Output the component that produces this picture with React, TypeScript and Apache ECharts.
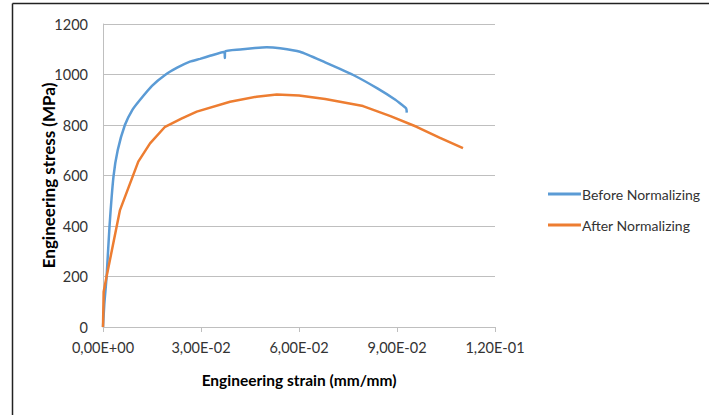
import React, { useEffect, useRef } from "react";
import * as echarts from "echarts";

const seriesNames = ["Before Normalizing", "After Normalizing"];

const beforeStrain = [
  0, 0.0004, 0.0011, 0.002, 0.0032, 0.0045, 0.0067, 0.009, 0.0113, 0.015,
  0.019, 0.0227, 0.0266, 0.0297, 0.033, 0.0372, 0.0373, 0.0374, 0.042, 0.0465,
  0.0501, 0.0542, 0.0603, 0.068, 0.0766, 0.084, 0.0895, 0.0915, 0.0928, 0.093,
];
const beforeStress = [
  0, 90, 199, 400, 595, 700, 800, 860, 899, 955,
  998, 1027, 1051, 1062, 1075, 1090, 1065, 1091, 1099, 1105,
  1108, 1104, 1090, 1048, 998, 945, 900, 880, 866, 849,
];

const afterStrain = [
  0, 0.0002, 0.0011, 0.0052, 0.0108, 0.0144, 0.019, 0.024, 0.0287, 0.0389,
  0.047, 0.0532, 0.06, 0.068, 0.0796, 0.088, 0.096, 0.103, 0.1102,
];
const afterStress = [
  0, 140, 200, 463, 655, 727, 793, 825, 853, 892,
  912, 921, 917, 903, 875, 835, 793, 750, 708,
];

const xTickLabels = ["0,00E+00", "3,00E-02", "6,00E-02", "9,00E-02", "1,20E-01"];
const yTickValues = [0, 200, 400, 600, 800, 1000, 1200];

const colors = ["#5B9BD5", "#ED7D31"];
const font = "Lato, 'Open Sans', sans-serif";

export default function App() {
  const ref = useRef<HTMLDivElement>(null);
  useEffect(() => {
    if (!ref.current) return;
    const chart = echarts.init(ref.current, null, { renderer: "svg" });
    const pairs = (xs: number[], ys: number[]) => xs.map((x, i) => [x, ys[i]]);
    chart.setOption({
      animation: false,
      backgroundColor: "#ffffff",
      textStyle: { fontFamily: font },
      grid: { left: 103, right: 214, top: 24, bottom: 88, containLabel: false },
      legend: {
        orient: "vertical",
        left: 543,
        top: 182,
        itemGap: 17,
        icon: "rect",
        itemWidth: 33,
        itemHeight: 3,
        textStyle: { fontFamily: font, fontSize: 14, color: "#333", padding: [0, 0, 0, -4] },
        data: seriesNames,
      },
      xAxis: {
        type: "value",
        min: 0,
        max: 0.12,
        interval: 0.03,
        name: "Engineering strain (mm/mm)",
        nameLocation: "middle",
        nameGap: 45,
        nameTextStyle: { fontFamily: font, fontSize: 15.5, fontWeight: "bold", color: "#000" },
        axisLine: { show: true, lineStyle: { color: "#bfbfbf", width: 1 } },
        axisTick: { show: true, length: 5, lineStyle: { color: "#bfbfbf" } },
        splitLine: { show: false },
        axisLabel: {
          fontFamily: font,
          fontSize: 14.5,
          color: "#333",
          margin: 13,
          formatter: (v: number) => xTickLabels[Math.round(v / 0.03)] ?? "",
        },
      },
      yAxis: {
        type: "value",
        min: yTickValues[0],
        max: yTickValues[yTickValues.length - 1],
        interval: 200,
        name: "Engineering stress (MPa)",
        nameLocation: "middle",
        nameGap: 46,
        nameMoveOverlap: false,
        nameTextStyle: { fontFamily: font, fontSize: 17, fontWeight: "bold", color: "#000" },
        axisLine: { show: true, lineStyle: { color: "#bfbfbf", width: 1 } },
        axisTick: { show: false },
        splitLine: { show: true, lineStyle: { color: "#bfbfbf", width: 1 } },
        axisLabel: {
          fontFamily: font,
          fontSize: 14.5,
          color: "#333",
          margin: 15,
          formatter: (v: number) => String(v),
        },
      },
      graphic: [
        { type: "line", shape: { x1: 12.5, y1: 3.5, x2: 12.5, y2: 415 }, style: { stroke: "#222", lineWidth: 1.5 } },
        { type: "line", shape: { x1: 12.5, y1: 3.5, x2: 709, y2: 3.5 }, style: { stroke: "#222", lineWidth: 1.5 } },
      ],
      series: [
        {
          name: seriesNames[0],
          type: "line",
          data: pairs(beforeStrain, beforeStress),
          showSymbol: false,
          symbol: "none",
          smooth: 0.2,
          color: colors[0],
          lineStyle: { color: colors[0], width: 2.5 },
        },
        {
          name: seriesNames[1],
          type: "line",
          data: pairs(afterStrain, afterStress),
          showSymbol: false,
          symbol: "none",
          smooth: false,
          color: colors[1],
          lineStyle: { color: colors[1], width: 2.5 },
        },
      ],
    });
    return () => chart.dispose();
  }, []);
  return (
    <div
      ref={ref}
      style={{ position: "absolute", left: 0, top: 0, width: 709, height: 415 }}
    />
  );
}
